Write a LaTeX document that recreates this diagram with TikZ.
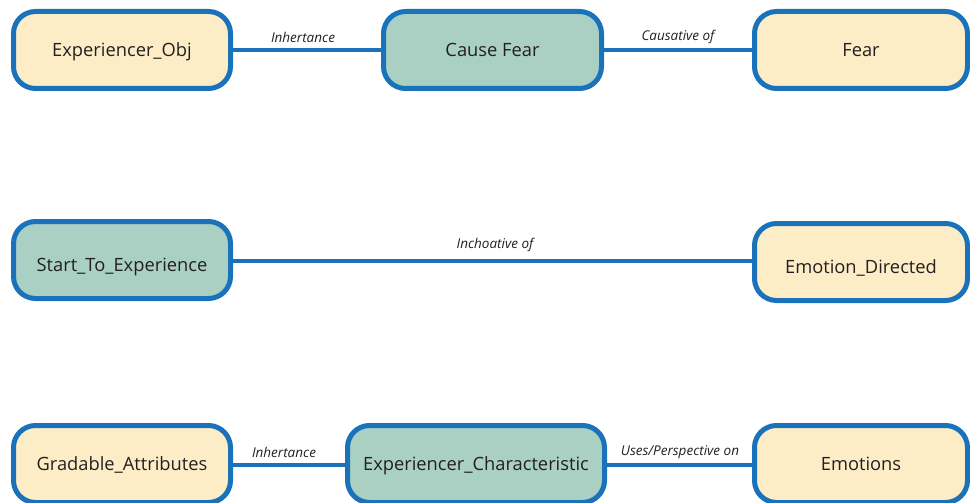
\documentclass[tikz,border=0pt]{standalone}
\usepackage{fontspec}
\setmainfont{Open Sans}
\definecolor{framecol}{HTML}{1A73BA}
\definecolor{sandfill}{HTML}{FCEDC6}
\definecolor{tealfill}{HTML}{A9D0C3}
\definecolor{inkcol}{HTML}{231F20}
\tikzset{
  framebox/.style={draw=framecol, line width=5pt, rounded corners=22pt,
    minimum height=77pt, text=inkcol, font=\fontsize{18.3}{20}\selectfont,
    inner sep=0pt, text height=13pt, text depth=0pt},
  sandbox/.style={framebox, fill=sandfill},
  tealbox/.style={framebox, fill=tealfill},
  relation/.style={draw=framecol, line width=4pt},
  rellabel/.style={text=inkcol, font=\fontsize{13.5}{15}\selectfont\itshape, inner sep=0pt}
}
\newcommand{\lowered}[1]{\raisebox{-5pt}{#1}}
\begin{document}
\begin{tikzpicture}[x=1pt,y=-1pt]
\useasboundingbox (0,0) rectangle (970,503);
% top row
\node[sandbox, minimum width=217pt] (expobj) at (122,50) {Experiencer\_Obj};
\node[tealbox, minimum width=218pt] (causefear) at (492.5,50) {Cause Fear};
\node[sandbox, minimum width=213pt] (fear) at (861,50) {Fear};
% middle row
\node[tealbox, minimum width=217pt] (startexp) at (122,260) {\lowered{Start\_To\_Experience}};
\node[sandbox, minimum width=213pt] (emodir) at (861,262) {\lowered{Emotion\_Directed}};
% bottom row
\node[sandbox, minimum width=217pt] (gradable) at (122,464) {Gradable\_Attributes};
\node[tealbox, minimum width=257pt] (expchar) at (476,464) {Experiencer\_Characteristic};
\node[sandbox, minimum width=213pt] (emotions) at (861,464) {Emotions};
% relations
\draw[relation] (expobj) -- (causefear);
\draw[relation] (causefear) -- (fear);
\draw[relation] (startexp.east |- 0,261) -- (emodir.west |- 0,261);
\draw[relation] (gradable.east |- 0,465) -- (expchar.west |- 0,465);
\draw[relation] (expchar.east |- 0,465) -- (emotions.west |- 0,465);
% relation labels
\node[rellabel] (l1) at (303,37) {Inhertance};
\node[rellabel] (l2) at (678,37) {Causative of};
\node[rellabel] (l3) at (495,245) {Inchoative of};
\node[rellabel] (l4) at (284,452) {Inhertance};
\node[rellabel] (l5) at (680,452) {Uses/Perspective on};
\end{tikzpicture}
\end{document}
